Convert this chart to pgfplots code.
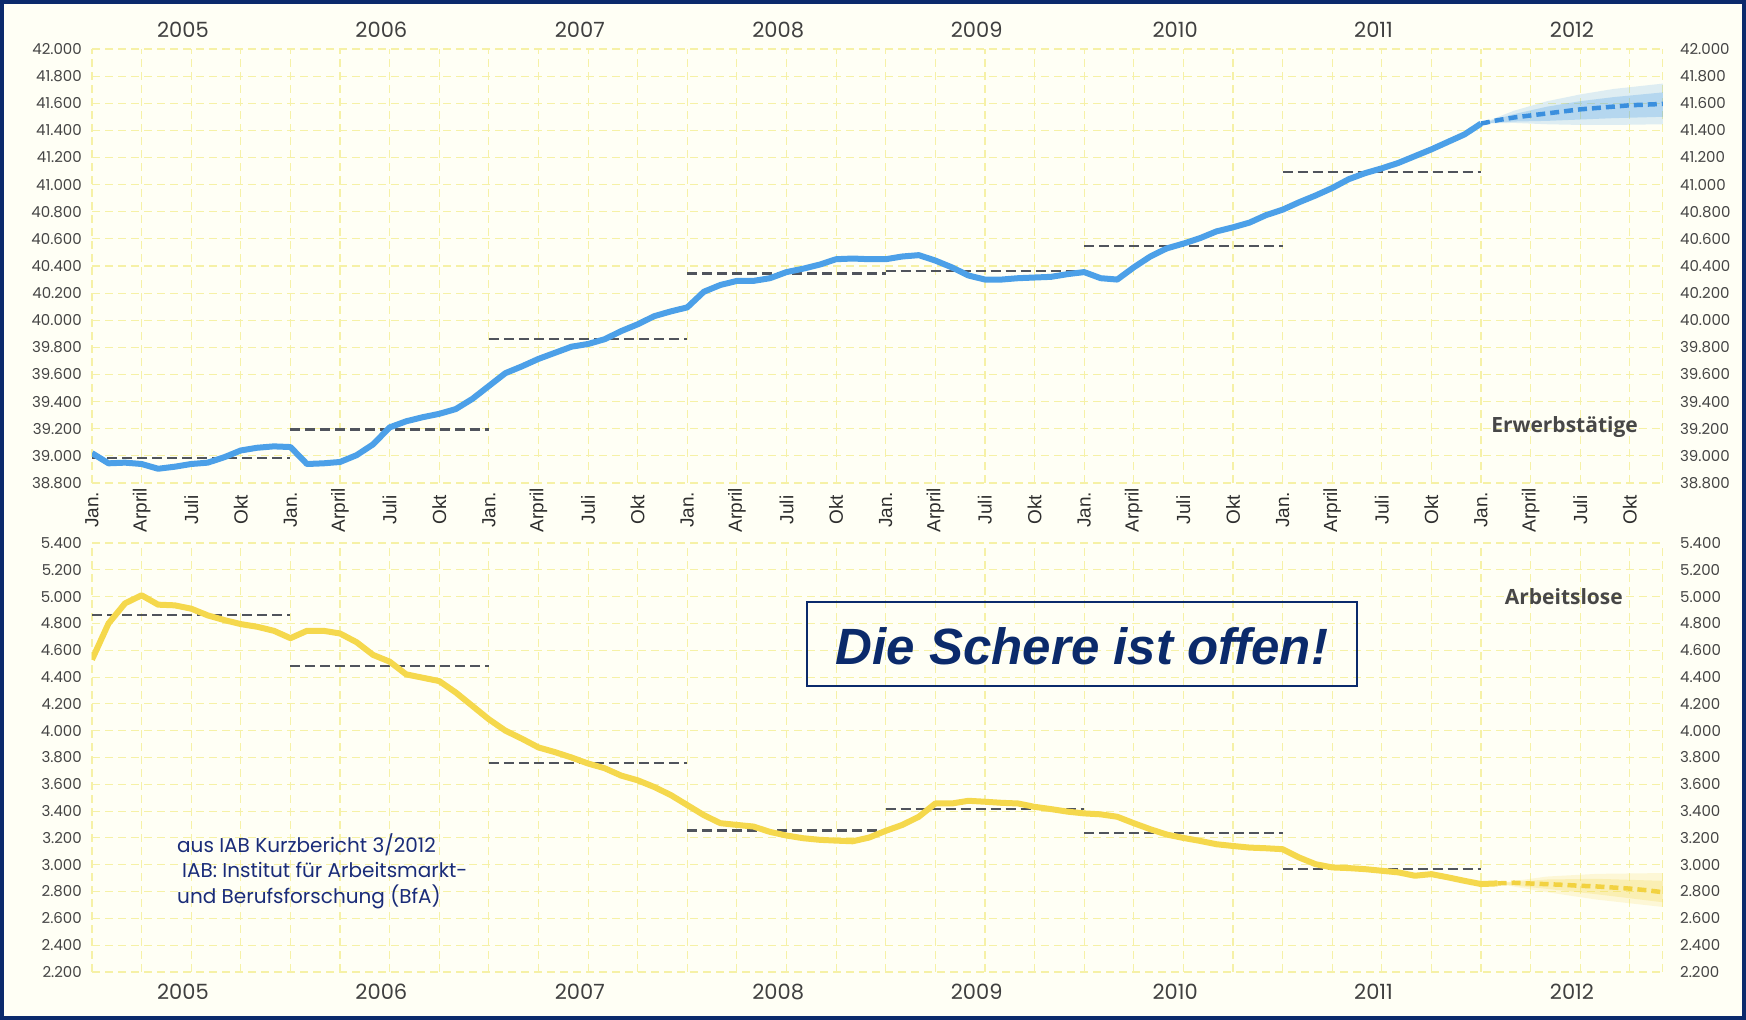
\documentclass[border=0pt]{standalone}
\usepackage{fontspec}
\setmainfont{Poppins}
\newfontfamily\monthfont{Liberation Sans}
\newfontfamily\labfont{Open Sans}
\newfontfamily\headfont{Liberation Sans}
\usepackage{pgfplots}
\pgfplotsset{compat=1.18}
\usepackage{pgfplotstable}

\definecolor{bg}{HTML}{FFFFF5}
\definecolor{gridy}{HTML}{F6F1A6}
\definecolor{navy}{HTML}{0B2A6B}
\definecolor{bluel}{HTML}{4CA0E8}
\definecolor{blued}{HTML}{3A8FDE}
\definecolor{yell}{HTML}{F5D84C}
\definecolor{yelld}{HTML}{F2D240}
\definecolor{avg}{HTML}{50545C}
\definecolor{tickg}{HTML}{454545}
\definecolor{srcblue}{HTML}{1A2C78}

\pgfplotstableread{
m v
0 39020
1 38945
2 38950
3 38940
4 38905
5 38920
6 38940
7 38950
8 38990
9 39040
10 39060
11 39070
12 39065
13 38940
14 38945
15 38955
16 39005
17 39085
18 39210
19 39255
20 39285
21 39310
22 39345
23 39420
24 39515
25 39610
26 39660
27 39715
28 39760
29 39805
30 39825
31 39860
32 39920
33 39970
34 40030
35 40065
36 40095
37 40210
38 40260
39 40290
40 40290
41 40310
42 40355
43 40380
44 40410
45 40450
46 40455
47 40450
48 40450
49 40470
50 40480
51 40440
52 40390
53 40330
54 40300
55 40300
56 40310
57 40315
58 40320
59 40340
60 40355
61 40310
62 40300
63 40390
64 40470
65 40530
66 40565
67 40605
68 40655
69 40685
70 40720
71 40775
72 40815
73 40870
74 40920
75 40975
76 41040
77 41085
78 41120
79 41160
80 41210
81 41260
82 41315
83 41370
84 41450
}\erwerb

\pgfplotstableread{
m v
84 41450
85 41475
86 41495
87 41510
88 41525
89 41540
90 41555
91 41565
92 41575
93 41585
94 41590
95 41595
}\erwerbf

\pgfplotstableread{
m v
0 4530
1 4800
2 4950
3 5010
4 4940
5 4935
6 4910
7 4860
8 4825
9 4795
10 4775
11 4745
12 4690
13 4745
14 4745
15 4725
16 4660
17 4565
18 4515
19 4420
20 4395
21 4370
22 4285
23 4185
24 4085
25 4000
26 3940
27 3875
28 3840
29 3800
30 3755
31 3720
32 3665
33 3630
34 3580
35 3520
36 3445
37 3370
38 3310
39 3297
40 3285
41 3245
42 3218
43 3198
44 3186
45 3180
46 3175
47 3203
48 3253
49 3297
50 3358
51 3457
52 3457
53 3477
54 3470
55 3462
56 3457
57 3432
58 3415
59 3396
60 3383
61 3376
62 3358
63 3310
64 3265
65 3225
66 3200
67 3178
68 3153
69 3140
70 3128
71 3123
72 3116
73 3054
74 3004
75 2980
76 2975
77 2967
78 2955
79 2943
80 2918
81 2930
82 2906
83 2880
84 2856
85 2861
}\arbeit

\pgfplotstableread{
m v
85 2861
86 2866
87 2860
88 2855
89 2850
90 2843
91 2838
92 2830
93 2822
94 2810
95 2795
}\arbeitf

\pgfplotsset{
  base/.style={
    scale only axis, width=1571pt, xmin=0, xmax=95,
    axis line style={draw=none}, tick style={draw=none},
    scaled y ticks=false, scaled x ticks=false,
    /pgf/number format/1000 sep={.},
    /pgf/number format/assume math mode=true,
    yticklabel style={font=\fontsize{15}{15}\selectfont, text=tickg},
  },
  gridax/.style={
    grid=major,
    major grid style={gridy, line width=1.1pt, dash pattern=on 8pt off 5pt},
    xtick={0,3,...,93},
    extra x ticks={95}, extra x tick labels={}, extra x tick style={grid=major},
    yticklabel style={anchor=east, inner sep=0pt, xshift=-10pt},
  },
  rightax/.style={
    yticklabel pos=right,
    yticklabel style={anchor=west, inner sep=0pt, xshift=17pt},
    xtick={5.5,17.5,...,89.5},
    xticklabels={2005,2006,2007,2008,2009,2010,2011,2012},
  },
  avgline/.style={avg, line width=2.2pt, dash pattern=on 10pt off 5pt, forget plot},
}

\begin{document}
\begin{tikzpicture}
\fill[bg] (0,0) rectangle (1746pt,1020pt);

% ---------- top panel ----------
\begin{axis}[base, gridax, at={(92pt,537pt)}, anchor=south west, height=434pt,
  ymin=38800, ymax=42000, ytick={38800,39000,...,42000},
  xticklabels={Jan.,Arpril,Juli,Okt,Jan.,Arpril,Juli,Okt,Jan.,Arpril,Juli,Okt,Jan.,Arpril,Juli,Okt,Jan.,Arpril,Juli,Okt,Jan.,Arpril,Juli,Okt,Jan.,Arpril,Juli,Okt,Jan.,Arpril,Juli,Okt},
  xticklabel style={font=\monthfont\fontsize{19}{19}\selectfont, text=black!82, inner sep=0pt, anchor=center, yshift=-27pt, rotate=90},
]
\addplot[avgline] coordinates {(0,38985) (12,38985)};
\addplot[avgline] coordinates {(12,39195) (24,39195)};
\addplot[avgline] coordinates {(24,39860) (36,39860)};
\addplot[avgline] coordinates {(36,40345) (48,40345)};
\addplot[avgline] coordinates {(48,40362) (60,40362)};
\addplot[avgline] coordinates {(60,40548) (72,40548)};
\addplot[avgline] coordinates {(72,41095) (84,41095)};
% forecast band
\addplot[draw=none, fill=bluel, fill opacity=0.18, forget plot] coordinates {(84,41450) (86,41545) (88,41615) (90,41665) (92,41705) (95,41745) (95,41445) (92,41440) (90,41440) (88,41445) (86,41455) (84,41450)};
\addplot[draw=none, fill=bluel, fill opacity=0.28, forget plot] coordinates {(84,41450) (86,41520) (88,41575) (90,41615) (92,41645) (95,41680) (95,41500) (92,41490) (90,41480) (88,41470) (86,41465) (84,41450)};
\addplot[bluel, line width=6pt, line join=round] table[x=m, y=v] {\erwerb};
\addplot[blued, line width=4.5pt, dash pattern=on 9pt off 5pt] table[x=m, y=v] {\erwerbf};
\end{axis}
\begin{axis}[base, rightax, at={(92pt,537pt)}, anchor=south west, height=434pt,
  ymin=38800, ymax=42000, ytick={38800,39000,...,42000},
  xticklabel pos=upper,
  xticklabel style={anchor=center, inner sep=0pt, yshift=19pt, font=\fontsize{21}{21}\selectfont, text=black!75},
]
\end{axis}

% ---------- bottom panel ----------
\begin{axis}[base, gridax, at={(92pt,48pt)}, anchor=south west, height=429pt,
  ymin=2200, ymax=5400, ytick={2200,2400,...,5400},
  xticklabels={},
]
\addplot[avgline] coordinates {(0,4862) (12,4862)};
\addplot[avgline] coordinates {(12,4485) (24,4485)};
\addplot[avgline] coordinates {(24,3760) (36,3760)};
\addplot[avgline] coordinates {(36,3255) (48,3255)};
\addplot[avgline] coordinates {(48,3418) (60,3418)};
\addplot[avgline] coordinates {(60,3237) (72,3237)};
\addplot[avgline] coordinates {(72,2970) (84,2970)};
\addplot[draw=none, fill=yell, fill opacity=0.18, forget plot] coordinates {(85,2862) (88,2912) (91,2932) (95,2938) (95,2685) (91,2740) (88,2795) (85,2858)};
\addplot[draw=none, fill=yell, fill opacity=0.25, forget plot] coordinates {(85,2862) (88,2890) (91,2895) (95,2880) (95,2720) (91,2780) (88,2820) (85,2858)};
\addplot[yell, line width=6pt, line join=round] table[x=m, y=v] {\arbeit};
\addplot[yelld, line width=4.5pt, dash pattern=on 9pt off 5pt] table[x=m, y=v] {\arbeitf};
\end{axis}
\begin{axis}[base, rightax, at={(92pt,48pt)}, anchor=south west, height=429pt,
  ymin=2200, ymax=5400, ytick={2200,2400,...,5400},
  xticklabel pos=lower,
  xticklabel style={anchor=center, inner sep=0pt, yshift=-20pt, font=\fontsize{21}{21}\selectfont, text=black!75},
]
\end{axis}

% ---------- annotations ----------
\node[anchor=east, inner sep=0pt, font=\labfont\bfseries\fontsize{21}{21}\selectfont, text=black!72] at (1638pt,593pt) {Erwerbstätige};
\node[anchor=east, inner sep=0pt, font=\labfont\bfseries\fontsize{21}{21}\selectfont, text=black!72] at (1623pt,423pt) {Arbeitslose};
\draw[navy, line width=2.6pt] (807pt,334pt) rectangle (1357pt,418pt);
\node[inner sep=0pt, font=\headfont\bfseries\itshape\fontsize{51}{51}\selectfont, text=navy] at (1082pt,374pt) {Die Schere ist offen!};
\node[anchor=west, inner sep=0pt, font=\fontsize{20}{20}\selectfont, text=srcblue] at (177pt,175pt) {aus IAB Kurzbericht 3/2012};
\node[anchor=west, inner sep=0pt, font=\fontsize{20}{20}\selectfont, text=srcblue] at (182pt,150pt) {IAB: Institut für Arbeitsmarkt-};
\node[anchor=west, inner sep=0pt, font=\fontsize{20}{20}\selectfont, text=srcblue] at (177pt,123pt) {und Berufsforschung (BfA)};

\draw[navy, line width=4pt] (2pt,2pt) rectangle (1744pt,1018pt);
\end{tikzpicture}
\end{document}
